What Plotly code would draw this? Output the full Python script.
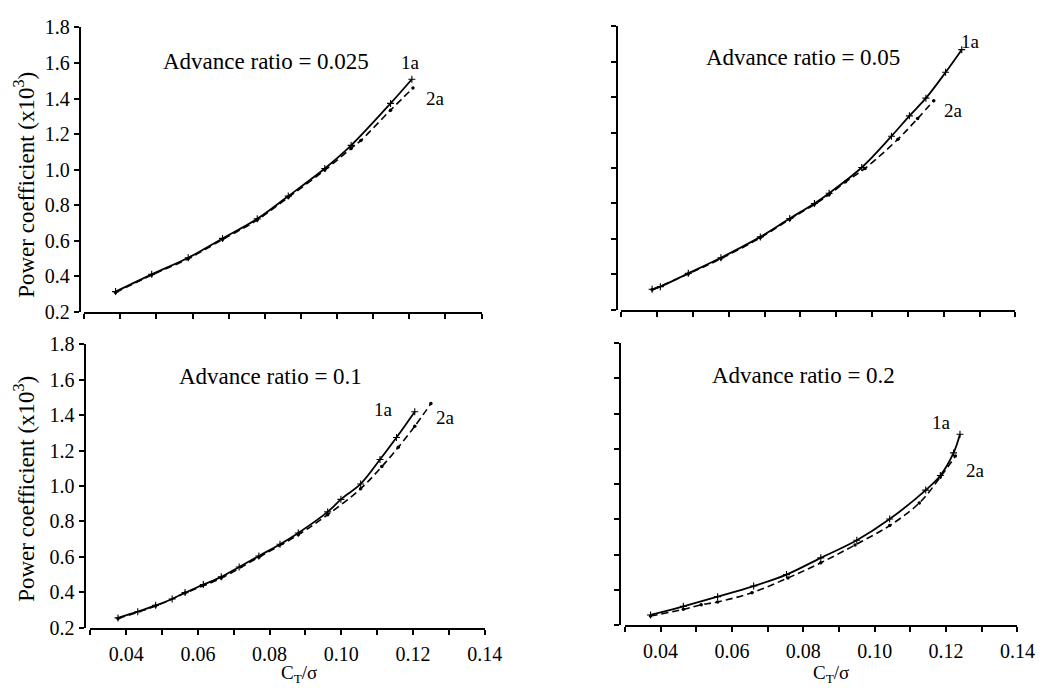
import plotly.graph_objects as go

FONT = "Liberation Serif, Times New Roman, serif"
W, H = 1061, 688

# ---------------- data (C_T/sigma, power coefficient x10^3) ----------------
# Advance ratio = 0.025
ct_025_1a = [0.0387, 0.0487, 0.0588, 0.0683, 0.0779, 0.0865, 0.0966, 0.1039, 0.1148, 0.1207]
cp_025_1a = [0.315, 0.412, 0.505, 0.614, 0.724, 0.852, 1.007, 1.137, 1.373, 1.509]
ct_025_2a = [0.0387, 0.0487, 0.0588, 0.0683, 0.0779, 0.0865, 0.0966, 0.1039, 0.1066, 0.1148, 0.1210]
cp_025_2a = [0.310, 0.408, 0.500, 0.608, 0.718, 0.845, 0.998, 1.120, 1.165, 1.335, 1.459]

# Advance ratio = 0.05
ct_05_1a = [0.0386, 0.0409, 0.0487, 0.0578, 0.0688, 0.0770, 0.0839, 0.0880, 0.0971, 0.1054, 0.1104, 0.1150, 0.1205, 0.1250]
cp_05_1a = [0.315, 0.330, 0.405, 0.493, 0.611, 0.715, 0.800, 0.858, 1.003, 1.180, 1.295, 1.395, 1.541, 1.669]
ct_05_2a = [0.0386, 0.0487, 0.0578, 0.0688, 0.0770, 0.0839, 0.0880, 0.0926, 0.0980, 0.1072, 0.1127, 0.1172]
cp_05_2a = [0.312, 0.402, 0.488, 0.606, 0.710, 0.795, 0.850, 0.922, 0.998, 1.163, 1.280, 1.381]

# Advance ratio = 0.1
ct_1_1a = [0.0377, 0.0432, 0.0482, 0.0528, 0.0564, 0.0615, 0.0665, 0.0715, 0.0770, 0.0829, 0.0880, 0.0962, 0.0999, 0.1054, 0.1108, 0.1154, 0.1205]
cp_1_1a = [0.255, 0.290, 0.326, 0.362, 0.398, 0.443, 0.487, 0.543, 0.605, 0.671, 0.735, 0.854, 0.925, 1.012, 1.150, 1.274, 1.420]
ct_1_2a = [0.0377, 0.0482, 0.0564, 0.0665, 0.0770, 0.0880, 0.0962, 0.1054, 0.1113, 0.1159, 0.1205, 0.1250]
cp_1_2a = [0.252, 0.322, 0.395, 0.480, 0.598, 0.725, 0.838, 0.985, 1.110, 1.219, 1.338, 1.466]

# Advance ratio = 0.2
ct_2_1a = [0.0372, 0.0464, 0.0560, 0.0661, 0.0753, 0.0849, 0.0950, 0.1042, 0.1143, 0.1184, 0.1221, 0.1239]
cp_2_1a = [0.258, 0.307, 0.362, 0.422, 0.487, 0.582, 0.682, 0.802, 0.966, 1.049, 1.177, 1.283]
ct_2_2a = [0.0372, 0.0464, 0.0514, 0.0560, 0.0656, 0.0757, 0.0849, 0.0945, 0.1042, 0.1125, 0.1184, 0.1226]
cp_2_2a = [0.252, 0.290, 0.316, 0.332, 0.384, 0.468, 0.554, 0.655, 0.765, 0.893, 1.040, 1.159]

panel_titles = ["Advance ratio = 0.025", "Advance ratio = 0.05",
                "Advance ratio = 0.1", "Advance ratio = 0.2"]
series_names = ["1a", "2a"]
x_range = [0.03, 0.14]
y_range = [0.2, 1.8]
x_ticks = [0.04, 0.06, 0.08, 0.10, 0.12, 0.14]
x_minor = [0.03, 0.05, 0.07, 0.09, 0.11, 0.13]
y_ticks = [0.2, 0.4, 0.6, 0.8, 1.0, 1.2, 1.4, 1.6, 1.8]

# ---------------- layout geometry (pixels) ----------------
# x0, x1 (x-axis extent), y-axis line x, ytop (1.8), ybot (0.2)
geom = [
    (85.6, 489.9, 81, 17, 311),
    (632, 1033, 628, 16, 308.5),
    (92, 493, 86, 344.5, 637),
    (635.6, 1035, 631, 343, 634.5),
]
title_pos = [(271, 52), (817, 48), (275, 378), (817, 377)]
lab1_pos = [(418, 53), (987, 32), (390, 412), (958, 425)]
lab2_pos = [(443, 90), (970, 103), (453, 420), (992, 475)]

data = [
    (ct_025_1a, cp_025_1a, ct_025_2a, cp_025_2a),
    (ct_05_1a, cp_05_1a, ct_05_2a, cp_05_2a),
    (ct_1_1a, cp_1_1a, ct_1_2a, cp_1_2a),
    (ct_2_1a, cp_2_1a, ct_2_2a, cp_2_2a),
]

fig = go.Figure()
annotations = []
layout = {}


def px(x):
    return x / W


def py(y):
    return 1 - y / H


def note(x, y, text, size, angle=0):
    return dict(x=px(x), y=py(y), xref="paper", yref="paper", text=text,
                showarrow=False, xanchor="center", yanchor="middle",
                textangle=angle, font=dict(family=FONT, size=size, color="black"))


for i, (g, d) in enumerate(zip(geom, data)):
    n = i + 1
    xa = "x" if n == 1 else f"x{n}"
    ya = "y" if n == 1 else f"y{n}"
    x0, x1, yl, yt, yb = g
    fig.add_trace(go.Scatter(
        x=d[0], y=d[1], xaxis=xa, yaxis=ya, mode="lines+markers", name=series_names[0],
        line=dict(color="black", width=1.8, shape="spline", smoothing=1.0),
        marker=dict(symbol="cross-thin", size=5, line=dict(color="black", width=1.1)),
        showlegend=False))
    fig.add_trace(go.Scatter(
        x=d[2], y=d[3], xaxis=xa, yaxis=ya, mode="lines+markers", name=series_names[1],
        line=dict(color="black", width=1.6, dash="7px,4px", shape="spline", smoothing=1.0),
        marker=dict(symbol="circle", size=3.5, color="black"),
        showlegend=False))
    bottom = i >= 2
    left = i % 2 == 0
    layout["xaxis" if n == 1 else f"xaxis{n}"] = dict(
        domain=[px(x0), px(x1)], range=x_range, anchor=ya,
        showline=True, linecolor="black", linewidth=2,
        ticks="outside", ticklen=5, tickwidth=1.5, tickcolor="black",
        tickvals=x_ticks, ticktext=[f"{v:.2f}" for v in x_ticks],
        showticklabels=bottom, ticklabelstandoff=2,
        minor=dict(tickvals=x_minor, ticks="outside",
                   ticklen=5, tickwidth=1.5, tickcolor="black"),
        showgrid=False, zeroline=False,
        tickfont=dict(family=FONT, size=20, color="black"))
    layout["yaxis" if n == 1 else f"yaxis{n}"] = dict(
        domain=[py(yb), py(yt)], range=y_range, anchor="free", position=px(yl),
        showline=True, linecolor="black", linewidth=2,
        ticks="outside", ticklen=5, tickwidth=1.5, tickcolor="black",
        tickvals=y_ticks, ticktext=[f"{v:.1f}" for v in y_ticks],
        showticklabels=left,
        showgrid=False, zeroline=False,
        tickfont=dict(family=FONT, size=20, color="black"))
    tx, ty = title_pos[i]
    annotations.append(note(tx, ty, panel_titles[i], 23))
    annotations.append(note(*lab1_pos[i], series_names[0], 19))
    annotations.append(note(*lab2_pos[i], series_names[1], 19))

# axis titles
for (cx, cy) in [(25, 180), (25, 494)]:
    annotations.append(note(cx, cy, "Power coefficient (x10<sup>3</sup>)", 23, -90))
for (cx, cy) in [(304, 685), (845, 685)]:
    annotations.append(note(cx, cy, "C<sub>T</sub>/σ", 19))

fig.update_layout(
    width=W, height=H, margin=dict(l=0, r=0, t=0, b=0),
    paper_bgcolor="white", plot_bgcolor="white",
    annotations=annotations, showlegend=False, **layout)

fig.write_html("out.html")
